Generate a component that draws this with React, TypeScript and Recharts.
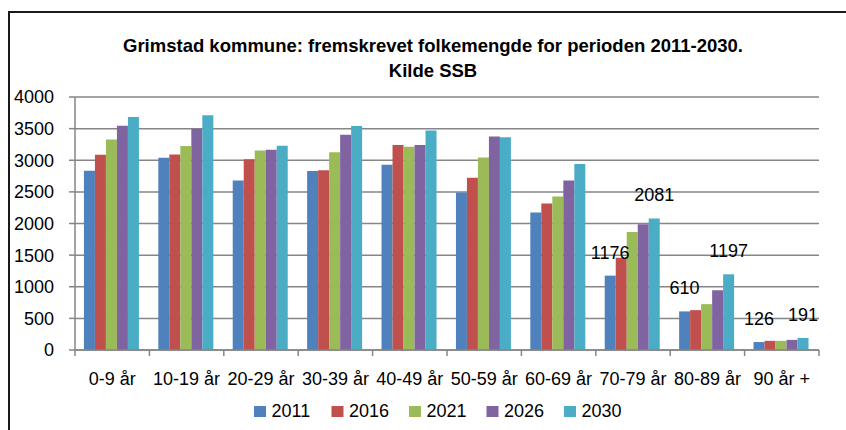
import React from 'react'
import { BarChart, Bar, XAxis, YAxis, CartesianGrid, LabelList } from 'recharts'

const CATEGORIES = ['0-9 år', '10-19 år', '20-29 år', '30-39 år', '40-49 år', '50-59 år', '60-69 år', '70-79 år', '80-89 år', '90 år +']

const Y2011 = [2835, 3040, 2680, 2830, 2930, 2490, 2175, 1176, 610, 126]
const Y2016 = [3085, 3090, 3015, 2840, 3240, 2725, 2315, 1460, 630, 145]
const Y2021 = [3330, 3225, 3155, 3125, 3215, 3045, 2425, 1865, 725, 145]
const Y2026 = [3545, 3500, 3165, 3405, 3240, 3375, 2680, 1990, 945, 160]
const Y2030 = [3685, 3710, 3230, 3540, 3470, 3365, 2940, 2081, 1197, 191]

const Y_TICKS = [0, 500, 1000, 1500, 2000, 2500, 3000, 3500, 4000]

// only these categories carry value labels (first and last series)
const LABELLED = ['70-79 år', '80-89 år', '90 år +']

const SERIES = [
  { key: 'y2011', name: '2011', values: Y2011, color: '#4F81BD', label: true },
  { key: 'y2016', name: '2016', values: Y2016, color: '#C0504D', label: false },
  { key: 'y2021', name: '2021', values: Y2021, color: '#9BBB59', label: false },
  { key: 'y2026', name: '2026', values: Y2026, color: '#8064A2', label: false },
  { key: 'y2030', name: '2030', values: Y2030, color: '#4BACC6', label: true },
]

const TITLE = ['Grimstad kommune: fremskrevet folkemengde for perioden 2011-2030.', 'Kilde SSB']

const W = 846
const H = 430
const PLOT_LEFT = 75
const PLOT_RIGHT = 819
const STEP = (PLOT_RIGHT - PLOT_LEFT) / CATEGORIES.length
const AXIS_COLOR = '#868686'

const chartData = CATEGORIES.map((cat, i) => {
  const row: Record<string, any> = { cat }
  SERIES.forEach(s => {
    row[s.key] = s.values[i]
    if (s.label && LABELLED.includes(cat)) row[s.key + '_lab'] = s.values[i]
  })
  return row
})

function CatTick(props: any) {
  const { x, y, payload, index } = props
  const left = x - STEP / 2
  return (
    <g>
      <line x1={left} y1={y} x2={left} y2={y + 6} stroke={AXIS_COLOR} strokeWidth={1.5} />
      {index === CATEGORIES.length - 1 && (
        <line x1={x + STEP / 2} y1={y} x2={x + STEP / 2} y2={y + 6} stroke={AXIS_COLOR} strokeWidth={1.5} />
      )}
      <text x={x} y={y + 35} textAnchor="middle" fontSize={18} fill="#000">{payload.value}</text>
    </g>
  )
}

export default function App() {
  return (
    <div style={{ position: 'absolute', left: 0, top: 0, width: W, height: H, overflow: 'hidden', background: '#fff', fontFamily: '"Liberation Sans", Arial, sans-serif' }}>
      <div style={{ position: 'absolute', left: 8, top: 11, width: W - 8, height: H - 11, borderLeft: '2px solid #1a1a1a', borderTop: '2px solid #1a1a1a', boxSizing: 'border-box' }} />
      <BarChart
        width={W}
        height={H}
        data={chartData}
        margin={{ top: 97, right: W - PLOT_RIGHT, left: 0, bottom: 0 }}
        barCategoryGap="12%"
        barGap={0}
      >
        <CartesianGrid vertical={false} stroke={AXIS_COLOR} strokeWidth={1.5} />
        <XAxis
          dataKey="cat"
          height={80}
          interval={0}
          tickLine={false}
          tickSize={0}
          tickMargin={0}
          axisLine={{ stroke: AXIS_COLOR, strokeWidth: 1.5 }}
          tick={<CatTick />}
        />
        <YAxis
          width={PLOT_LEFT}
          domain={[0, 4000]}
          ticks={Y_TICKS}
          interval={0}
          tickSize={6}
          tickMargin={15}
          axisLine={{ stroke: AXIS_COLOR, strokeWidth: 1.5 }}
          tickLine={{ stroke: AXIS_COLOR, strokeWidth: 1.5 }}
          tick={{ fontSize: 18, fill: '#000' }}
        />
        {SERIES.map(s => (
          <Bar key={s.key} dataKey={s.key} name={s.name} fill={s.color} isAnimationActive={false}>
            {s.label && (
              <LabelList dataKey={s.key + '_lab'} position="top" offset={17} fontSize={18} fill="#000" />
            )}
          </Bar>
        ))}
      </BarChart>
      <svg width={W} height={H} style={{ position: 'absolute', left: 0, top: 0, pointerEvents: 'none' }}>
        <text x={433} y={52} textAnchor="middle" fontSize={18.5} fontWeight="bold" fill="#000">{TITLE[0]}</text>
        <text x={433} y={77} textAnchor="middle" fontSize={18.5} fontWeight="bold" fill="#000">{TITLE[1]}</text>
        {SERIES.map((s, i) => {
          const lx = 254 + i * 77.5
          return (
            <g key={s.key}>
              <rect x={lx} y={406} width={12} height={11} fill={s.color} />
              <text x={lx + 17.5} y={417} fontSize={18} fill="#000">{s.name}</text>
            </g>
          )
        })}
      </svg>
    </div>
  )
}
